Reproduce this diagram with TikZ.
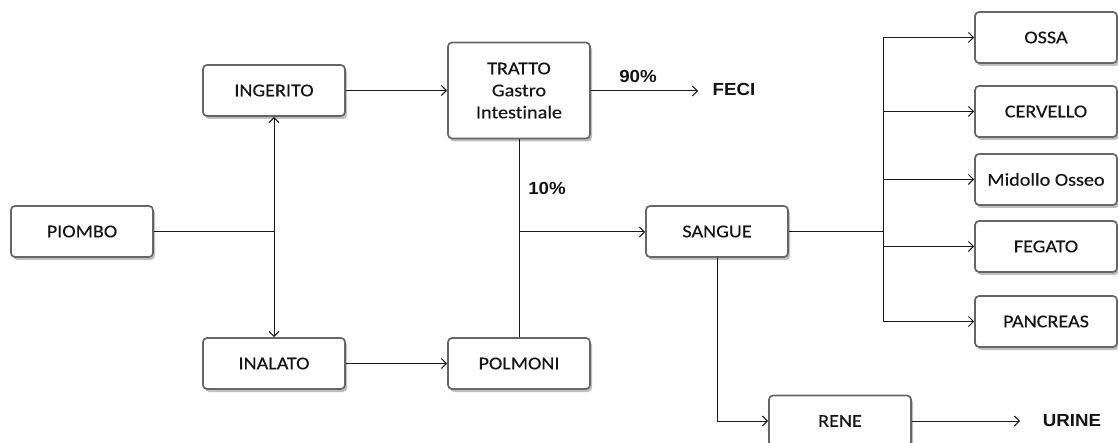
\documentclass[tikz,border=0pt]{standalone}
\usepackage{fontspec}
\setmainfont{Carlito}[FakeStretch=1.12,FakeBold=0.3,Ligatures=NoCommon]
\newfontfamily\labfont{Liberation Sans}[FakeStretch=1.07]
\usetikzlibrary{arrows.meta,shadows}
\definecolor{boxline}{HTML}{666666}
\definecolor{txt}{HTML}{151515}
\tikzset{
  box/.style={draw=boxline, line width=1.7pt, rounded corners=4pt, fill=white,
    minimum width=142pt, minimum height=51pt, inner sep=0pt, align=center,
    font=\fontsize{18}{22}\selectfont, text=txt,
    drop shadow={shadow xshift=2pt, shadow yshift=-3pt, opacity=0.25, fill=black}},
  conn/.style={draw=black!90, line width=1pt},
  arr/.style={conn, -{Straight Barb[length=5pt,width=10pt,line width=1pt]}},
  lab/.style={font=\labfont\bfseries\fontsize{17.5}{20}\selectfont, text=black!92, inner sep=0pt}
}
\begin{document}
\begin{tikzpicture}[x=1pt,y=-1pt]
\useasboundingbox (0,0) rectangle (1118,443);
\clip (0,0) rectangle (1118,443);
% nodes
\node[box] (piombo) at (82,231.5) {PIOMBO};
\node[box] (ingerito) at (274,90.5) {INGERITO};
\node[box] (inalato) at (274,363.5) {INALATO};
\node[box, minimum height=96pt] (tratto) at (519,90.5) {TRATTO\\Gastro\\Intest\kern0pt inale};
\node[box] (polmoni) at (519,363.5) {POLMONI};
\node[box] (sangue) at (717,231.5) {SANGUE};
\node[box] (ossa) at (1046,37.5) {OSSA};
\node[box] (cervello) at (1046,111.5) {CERVELLO};
\node[box] (midollo) at (1046,179.5) {Midollo Osseo};
\node[box] (fegato) at (1046,246.5) {FEGATO};
\node[box] (pancreas) at (1046,321.5) {PANCREAS};
\node[box] (rene) at (840,421) {RENE};
\node[lab] (feci) at (734,89) {FECI};
\node[lab] (urine) at (1072,421) {URINE};
\node[lab] (p90) at (638,76) {90\%};
\node[lab] (p10) at (547,188) {10\%};
% helper coordinates
\coordinate (j1) at (274,232);
\coordinate (j2) at (519,232);
\coordinate (bus) at (883,232);
\coordinate (fecitip) at (698,91);
\coordinate (urinetip) at (1020,422);
% connectors
\draw[conn] (piombo.east |- j1) -- (j1);
\draw[arr] (j1) -- (ingerito.south);
\draw[arr] (j1) -- (inalato.north);
\draw[arr] (ingerito.east) -- (tratto.west |- ingerito.east);
\draw[arr] (inalato.east) -- (polmoni.west |- inalato.east);
\draw[arr] (tratto.east |- fecitip) -- (fecitip);
\draw[conn] (tratto.south) -- (polmoni.north);
\draw[arr] (j2) -- (sangue.west |- j2);
\draw[conn] (sangue.east |- bus) -- (bus);
\draw[conn] (bus |- ossa.west) -- (bus |- pancreas.west);
\foreach \n in {ossa,cervello,midollo,fegato,pancreas}
  \draw[arr] (bus |- \n.west) -- (\n.west);
\draw[arr] (sangue.south) |- (rene.west);
\draw[arr] (rene.east) -- (urinetip |- rene.east);
\end{tikzpicture}
\end{document}
